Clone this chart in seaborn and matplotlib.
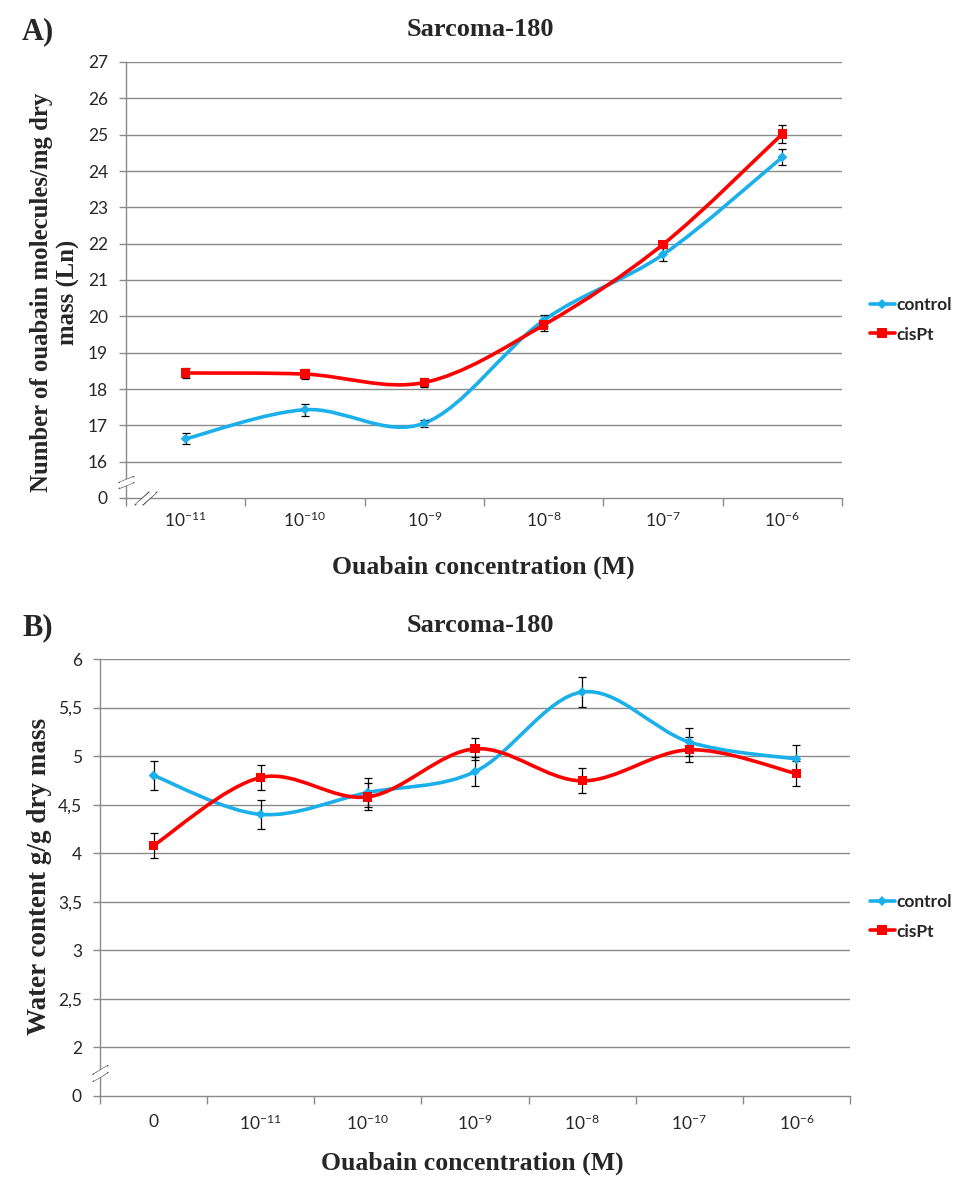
import matplotlib
matplotlib.use('Agg')
import matplotlib.pyplot as plt
from matplotlib.path import Path
from matplotlib.patches import PathPatch, Polygon
from matplotlib.lines import Line2D
import numpy as np
import pandas as pd
import seaborn as sns

# Panel A: number of ouabain molecules/mg dry mass (Ln)
conc_a = ['10$^{-11}$', '10$^{-10}$', '10$^{-9}$', '10$^{-8}$', '10$^{-7}$', '10$^{-6}$']
control_a = [16.63, 17.43, 17.06, 19.89, 21.70, 24.38]
control_a_err = [0.15, 0.17, 0.10, 0.15, 0.17, 0.22]
cispt_a = [18.44, 18.41, 18.18, 19.76, 21.98, 25.02]
cispt_a_err = [0.14, 0.13, 0.13, 0.15, 0.10, 0.25]
yticks_a = [16, 17, 18, 19, 20, 21, 22, 23, 24, 25, 26, 27]

# Panel B: water content g/g dry mass
conc_b = ['0', '10$^{-11}$', '10$^{-10}$', '10$^{-9}$', '10$^{-8}$', '10$^{-7}$', '10$^{-6}$']
control_b = [4.80, 4.40, 4.625, 4.84, 5.66, 5.145, 4.97]
control_b_err = [0.15, 0.15, 0.15, 0.15, 0.15, 0.145, 0.14]
cispt_b = [4.08, 4.78, 4.58, 5.075, 4.745, 5.065, 4.82]
cispt_b_err = [0.13, 0.125, 0.14, 0.11, 0.13, 0.13, 0.13]
yticks_b = [2, 2.5, 3, 3.5, 4, 4.5, 5, 5.5, 6]

colors = {'control': '#1BB0EA', 'cisPt': '#FF0000'}
markers = {'control': 'D', 'cisPt': 's'}
grid_color = '#8a8a8a'
W, H = 959, 1194

sns.set_theme(style='white')
plt.rcParams['font.family'] = ['Lato', 'DejaVu Sans']
plt.rcParams['mathtext.fontset'] = 'custom'
plt.rcParams['mathtext.rm'] = 'Lato'
plt.rcParams['mathtext.it'] = 'Lato:italic'
plt.rcParams['mathtext.bf'] = 'Lato:bold'
serif = ['Liberation Serif', 'DejaVu Serif']

fig = plt.figure(figsize=(W / 100, H / 100), dpi=100)


def px_axes(left, top, right, bottom):
    return fig.add_axes([left / W, 1 - bottom / H, (right - left) / W, (bottom - top) / H])


def smooth_path(xs, ys):
    # Excel-style smoothed line (Catmull-Rom as cubic Bezier)
    pts = np.column_stack([xs, ys]).astype(float)
    n = len(pts)
    verts = [pts[0]]
    codes = [Path.MOVETO]
    for i in range(n - 1):
        p0 = pts[max(i - 1, 0)]
        p1 = pts[i]
        p2 = pts[i + 1]
        p3 = pts[min(i + 2, n - 1)]
        verts += [p1 + (p2 - p0) / 6, p2 - (p3 - p1) / 6, p2]
        codes += [Path.CURVE4] * 3
    return Path(verts, codes)


def fig_line(pts):
    xs = [p[0] / W for p in pts]
    ys = [1 - p[1] / H for p in pts]
    fig.add_artist(Line2D(xs, ys, color='#555555', lw=0.9, transform=fig.transFigure))


def fig_mask(pts):
    fig.add_artist(Polygon([(p[0] / W, 1 - p[1] / H) for p in pts], closed=True,
                           fc='white', ec='none', transform=fig.transFigure, zorder=5))


def draw_panel(ax, conc, ctrl, ctrl_err, cis, cis_err, yticks, ybottom, ylabels_fmt):
    n = len(conc)
    x = np.arange(n)
    df = pd.DataFrame({'x': np.tile(x, 2),
                       'y': list(ctrl) + list(cis),
                       'group': ['control'] * n + ['cisPt'] * n})
    for name, vals, err in [('control', ctrl, ctrl_err), ('cisPt', cis, cis_err)]:
        ax.add_patch(PathPatch(smooth_path(x, vals), fc='none', ec=colors[name],
                               lw=2.6, zorder=2, capstyle='round'))
        ax.errorbar(x, vals, yerr=err, fmt='none', ecolor='black', elinewidth=0.9,
                    capsize=3, capthick=0.9, zorder=3)
    sns.scatterplot(data=df, x='x', y='y', hue='group', style='group', size='group',
                    palette=colors, markers=markers, sizes={'control': 26, 'cisPt': 44},
                    linewidth=0, legend=False, ax=ax, zorder=4)

    ax.set_xlim(-0.5, n - 0.5)
    ax.set_ylim(ybottom, yticks[-1])
    ax.set_xticks(np.arange(n + 1) - 0.5)
    ax.set_xticklabels([])
    ax.set_xticks(x, minor=True)
    ax.set_xticklabels(conc, minor=True)
    ax.set_yticks([ybottom] + yticks)
    ax.set_yticklabels(['0'] + [ylabels_fmt(v) for v in yticks])
    for v in yticks:
        ax.axhline(v, color=grid_color, lw=1, zorder=1)
    ax.set_xlabel('')
    ax.set_ylabel('')
    ax.tick_params(axis='x', which='major', direction='out', length=6, width=1,
                   color=grid_color, bottom=True)
    ax.tick_params(axis='x', which='minor', length=0, labelsize=12.5, labelcolor='#262626')
    ax.tick_params(axis='y', direction='out', length=5, width=1, color=grid_color,
                   left=True, labelsize=12.5, labelcolor='#262626', pad=8)
    for side in ['top', 'right']:
        ax.spines[side].set_visible(False)
    for side in ['left', 'bottom']:
        ax.spines[side].set_color(grid_color)
        ax.spines[side].set_linewidth(1)


def add_legend(cy):
    handles = [Line2D([], [], color=colors[k], lw=2.6, marker=markers[k],
                      markersize=5 if k == 'control' else 6.5, markeredgewidth=0)
               for k in ['control', 'cisPt']]
    fig.legend(handles, ['control', 'cisPt'], loc='center left',
               bbox_to_anchor=(854 / W, 1 - cy / H), frameon=False, handlelength=1.45,
               handletextpad=0.1, labelspacing=0.75, borderpad=0.4,
               prop={'family': ['Lato', 'DejaVu Sans'], 'weight': 'bold', 'size': 12.5})


# ---- Panel A ----
ax_a = px_axes(126, 62, 842, 498)
draw_panel(ax_a, conc_a, control_a, control_a_err, cispt_a, cispt_a_err,
           yticks_a, 15, lambda v: f'{v:g}')
ax_a.tick_params(axis='x', which='minor', pad=9)
add_legend(320)

fig.text(22 / W, 1 - 32 / H, 'A)', family=serif, weight='bold', fontsize=22,
         ha='left', va='center')
fig.text(480 / W, 1 - 29 / H, 'Sarcoma-180', family=serif, weight='bold',
         fontsize=19, ha='center', va='center')
fig.text(55 / W, 1 - 292 / H, 'Number of ouabain molecules/mg dry\nmass (Ln)',
         family=serif, weight='bold', fontsize=17.8, rotation=90, ha='center',
         va='center', multialignment='center', linespacing=1.2)
fig.text(483 / W, 1 - 567 / H, 'Ouabain concentration (M)', family=serif,
         weight='bold', fontsize=18.5, ha='center', va='center')

# axis break marks, panel A
fig_mask([(120, 482), (133, 477), (133, 483), (120, 488)])
fig_line([(119, 482.5), (134, 476.5)])
fig_line([(119, 488.5), (134, 482.5)])
fig_mask([(136, 504), (149, 493), (156, 493), (143, 504)])
fig_line([(135, 505), (149, 492)])
fig_line([(143, 505), (157, 492)])

# ---- Panel B ----
ax_b = px_axes(100, 659, 850, 1096)
draw_panel(ax_b, conc_b, control_b, control_b_err, cispt_b, cispt_b_err,
           yticks_b, 1.5, lambda v: f'{v:g}'.replace('.', ','))
ax_b.tick_params(axis='x', which='minor', pad=13)
add_legend(917)

fig.text(22 / W, 1 - 628 / H, 'B)', family=serif, weight='bold', fontsize=22,
         ha='left', va='center')
fig.text(480 / W, 1 - 626 / H, 'Sarcoma-180', family=serif, weight='bold',
         fontsize=19, ha='center', va='center')
fig.text(40 / W, 1 - 876 / H, 'Water content g/g dry mass', family=serif,
         weight='bold', fontsize=19.5, rotation=90, ha='center', va='center')
fig.text(472 / W, 1 - 1163 / H, 'Ouabain concentration (M)', family=serif,
         weight='bold', fontsize=18.5, ha='center', va='center')

# axis break marks, panel B
fig_mask([(94, 1074), (107, 1066), (107, 1073), (94, 1081)])
fig_line([(93, 1074.5), (108, 1065.5)])
fig_line([(93, 1081.5), (108, 1072.5)])

fig.savefig('out.png', dpi=100, facecolor='white')
